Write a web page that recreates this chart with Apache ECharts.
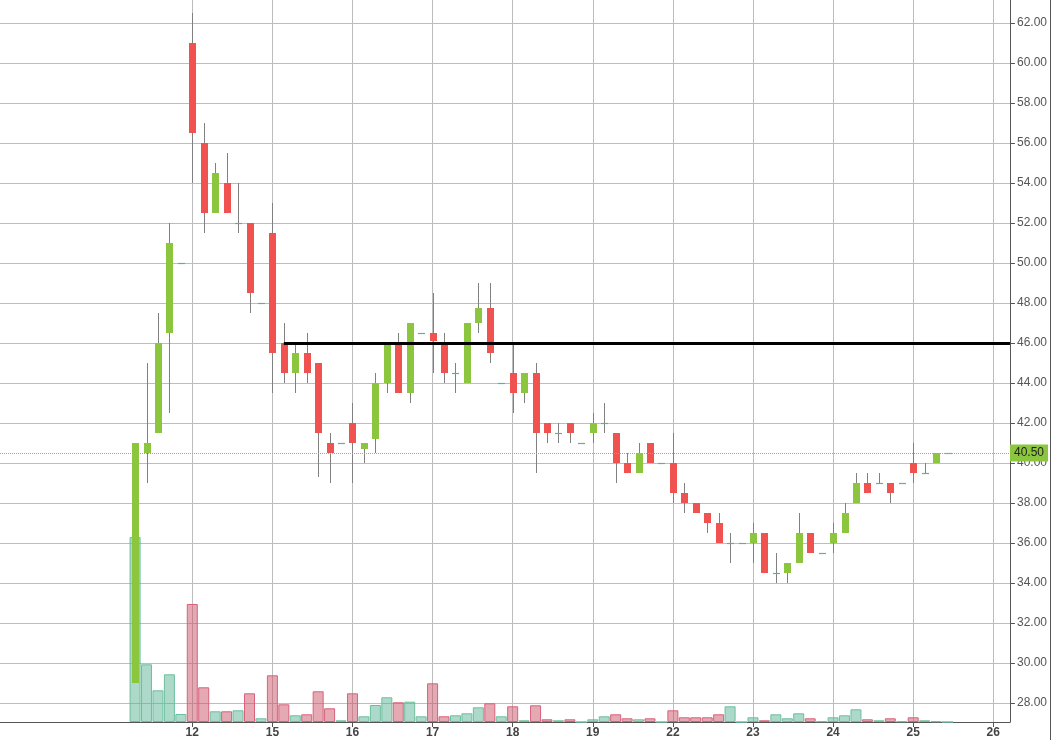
<!DOCTYPE html>
<html>
<head>
<meta charset="utf-8">
<script src="https://cdn.jsdelivr.net/npm/echarts@6/dist/echarts.min.js"></script>
<style>
html,body{margin:0;padding:0;background:#fff;}
#chart{width:1050px;height:740px;border-right:1px solid #555;}
</style>
</head>
<body>
<div id="chart"></div>
<script>
// ---- data ----
const dayLabels = ['11','12','15','16','17','18','19','22','23','24','25','26'];
const slotsPerDay = 7;
const candleDay = [
  '11','11','11','11','11',
  '12','12','12','12','12','12','12',
  '15','15','15','15','15','15','15',
  '16','16','16','16','16','16','16',
  '17','17','17','17','17','17','17',
  '18','18','18','18','18','18','18',
  '19','19','19','19','19','19','19',
  '22','22','22','22','22','22','22',
  '23','23','23','23','23','23','23',
  '24','24','24','24','24','24','24',
  '25','25','25','25'
];
const candleSlot = [
  2,3,4,5,6,
  0,1,2,3,4,5,6,
  0,1,2,3,4,5,6,
  0,1,2,3,4,5,6,
  0,1,2,3,4,5,6,
  0,1,2,3,4,5,6,
  0,1,2,3,4,5,6,
  0,1,2,3,4,5,6,
  0,1,2,3,4,5,6,
  0,1,2,3,4,5,6,
  0,1,2,3
];
const openPrice = [
  29,40.5,41.5,46.5,50,
  61,56,52.5,54,52,52,48,
  51.5,46,44.5,45.5,45,41,41,
  42,40.7,41.2,44,46,43.5,46.5,
  46.5,46,44.5,44,47,47.75,44,
  44.5,43.5,44.5,42,41.5,42,41,
  41.5,42,41.5,40,39.5,41,40,
  40,38.5,38,37.5,37,36,36,
  36,36.5,34.5,34.5,35,36.5,35.5,
  36,36.5,38,39,39,39,39,
  40,39.5,40,40.5
];
const closePrice = [
  41,41,46,51,50,
  56.5,52.5,54.5,52.5,52,48.5,48,
  45.5,44.5,45.5,44.5,41.5,40.5,41,
  41,41,44,46,43.5,47,46.5,
  46.1,44.5,44.5,47,47.75,45.5,44,
  43.5,44.5,41.5,41.5,41.5,41.5,41,
  42,42,40,39.5,40.5,40,40,
  38.5,38,37.5,37,36,36,36,
  36.5,34.5,34.5,35,36.5,35.5,35.5,
  36.5,37.5,39,38.5,39,38.5,39,
  39.5,39.5,40.5,40.5
];
const lowPrice = [
  29,39,41.5,42.5,50,
  54,51.5,52.5,52.5,51.5,47.5,48,
  43.5,44,43.5,44,39.3,39,41,
  39,40,40.5,43.5,43.5,43,46.5,
  44.5,44,43.5,44,46.5,45,44,
  42.5,43,39.5,41,41,41,41,
  41,41.5,39,39.5,39.5,40,40,
  38,37.5,37.5,36.5,36,35,36,
  35,34.5,34,34,35,35.5,35.5,
  35.5,36.5,38,38.5,39,38,39,
  39,39.5,40,40.5
];
const highPrice = [
  41,45,47.5,52,50,
  62.5,57,55,55.5,54,52,48,
  53,47,46,46.5,45,41.5,41,
  43,41,44.5,46,46.5,47,46.5,
  48.5,46.5,45,47,49,49,44,
  46,44.5,45,42,42,42,41,
  42.5,43,41.5,40.5,41,41,40,
  41.5,39,38,37.5,37.5,36.5,36,
  37,36.5,35.5,35,37.5,36.5,35.5,
  37,38,39.5,39.5,39.5,39,39,
  41,40,40.5,40.5
];
const volume = [
  18500,5770,3170,4770,800,
  11800,3470,1070,1070,1170,2870,370,
  4670,1770,670,770,3070,1370,170,
  2870,570,1700,2470,1970,2030,570,
  3870,570,670,870,1470,1870,570,
  1570,170,1670,270,170,270,0,
  270,570,770,370,270,370,0,
  1170,470,470,470,770,1570,0,
  470,170,770,370,870,370,70,
  470,670,1270,270,170,370,70,
  470,170,70,0
];
const priceTicks = [28,30,32,34,36,38,40,42,44,46,48,50,52,54,56,58,60,62];
const lastPrice = 40.5;
const levelPrice = 46;
const levelStart = {day: '15', slot: 1};

// ---- build ----
function slotX(day, slot) { return dayLabels.indexOf(day) + slot / slotsPerDay; }
const dayTickValues = dayLabels.map((d, i) => i).filter(i => i > 0);
const X_MIN = -1.4007, X_MAX = 11.2085;

const candleData = candleDay.map((d, i) =>
  [slotX(d, candleSlot[i]), openPrice[i], closePrice[i], lowPrice[i], highPrice[i]]);

const UP = '#8cc63f', DOWN = '#f0524f', WICK = '#808080', DOJI = '#5ab58d';
const volData = candleDay.map((d, i) => {
  const up = closePrice[i] >= openPrice[i];
  return {
    value: [slotX(d, candleSlot[i]), volume[i]],
    itemStyle: up
      ? {color: 'rgba(90,180,150,0.5)', borderColor: '#6cbf9e', borderWidth: 1}
      : {color: 'rgba(203,83,105,0.5)', borderColor: '#d9617b', borderWidth: 1}
  };
});

function renderCandle(params, api) {
  const x = api.value(0), o = api.value(1), c = api.value(2), l = api.value(3), h = api.value(4);
  const pO = api.coord([x, o]), pC = api.coord([x, c]);
  const pL = api.coord([x, l]), pH = api.coord([x, h]);
  const xc = Math.round(pO[0]) + 0.5;
  const w = 7;
  const children = [];
  if (h > l) {
    children.push({type: 'line', shape: {x1: xc, y1: pH[1], x2: xc, y2: pL[1]},
      style: {stroke: WICK, lineWidth: 1}});
  }
  if (o === c) {
    const y = Math.round(pO[1]) + 0.5;
    children.push({type: 'line', shape: {x1: xc - w / 2, y1: y, x2: xc + w / 2, y2: y},
      style: {stroke: DOJI, lineWidth: 1.2}});
  } else {
    const top = Math.min(pO[1], pC[1]);
    children.push({type: 'rect',
      shape: {x: xc - w / 2, y: top, width: w, height: Math.abs(pO[1] - pC[1])},
      style: {fill: c > o ? UP : DOWN}});
  }
  return {type: 'group', children};
}

const chart = echarts.init(document.getElementById('chart'), null, {renderer: 'canvas'});
const font = 'Liberation Sans, Arial, sans-serif';
chart.setOption({
  animation: false,
  backgroundColor: '#fff',
  textStyle: {fontFamily: font},
  grid: {left: 0, right: 40, top: 0, bottom: 18, containLabel: false},
  xAxis: {
    type: 'value',
    min: X_MIN, max: X_MAX,
    axisLine: {show: true, onZero: false, lineStyle: {color: '#555'}},
    axisTick: {show: true, length: 5, customValues: dayTickValues, lineStyle: {color: '#555'}},
    axisLabel: {customValues: dayTickValues, formatter: v => dayLabels[Math.round(v)],
      color: '#444', fontSize: 12, fontWeight: 'bold', margin: 5, fontFamily: font},
    splitLine: {show: true, lineStyle: {color: '#bdbdbd', width: 1}}
  },
  yAxis: [{
    type: 'value', position: 'right',
    min: 27.05, max: 63.15,
    axisLine: {show: true, onZero: false, lineStyle: {color: '#555'}},
    axisTick: {show: true, length: 5, customValues: priceTicks, lineStyle: {color: '#555'}},
    axisLabel: {customValues: priceTicks, formatter: v => v.toFixed(2),
      color: '#555', fontSize: 12, margin: 7, fontFamily: font},
    splitLine: {show: true, lineStyle: {color: '#bdbdbd', width: 1}}
  }, {
    type: 'value', position: 'right', min: 0, max: 72200,
    show: false, axisLine: {onZero: false}
  }],
  series: [{
    type: 'bar', name: 'Volume', yAxisIndex: 1, barWidth: 11,
    data: volData, z: 1, silent: true
  }, {
    type: 'custom', name: 'Price', yAxisIndex: 0, z: 2,
    renderItem: renderCandle,
    encode: {x: 0, y: [1, 2, 3, 4]},
    data: candleData, silent: true
  }, {
    type: 'line', yAxisIndex: 0, data: [], z: 5, silent: true,
    markLine: {
      silent: true, symbol: ['none', 'none'], animation: false,
      data: [
        [{coord: [slotX(levelStart.day, levelStart.slot), levelPrice],
          lineStyle: {color: '#000', width: 3, type: 'solid'}, label: {show: false}},
         {coord: [X_MAX, levelPrice]}],
        {yAxis: lastPrice,
         lineStyle: {color: UP, width: 1, type: 'dotted'},
         label: {show: true, position: 'end', distance: 0,
           formatter: lastPrice.toFixed(2), backgroundColor: UP, color: '#222',
           padding: [3, 4, 2, 4], fontSize: 12, fontFamily: font}}
      ]
    }
  }]
});
</script>
</body>
</html>
